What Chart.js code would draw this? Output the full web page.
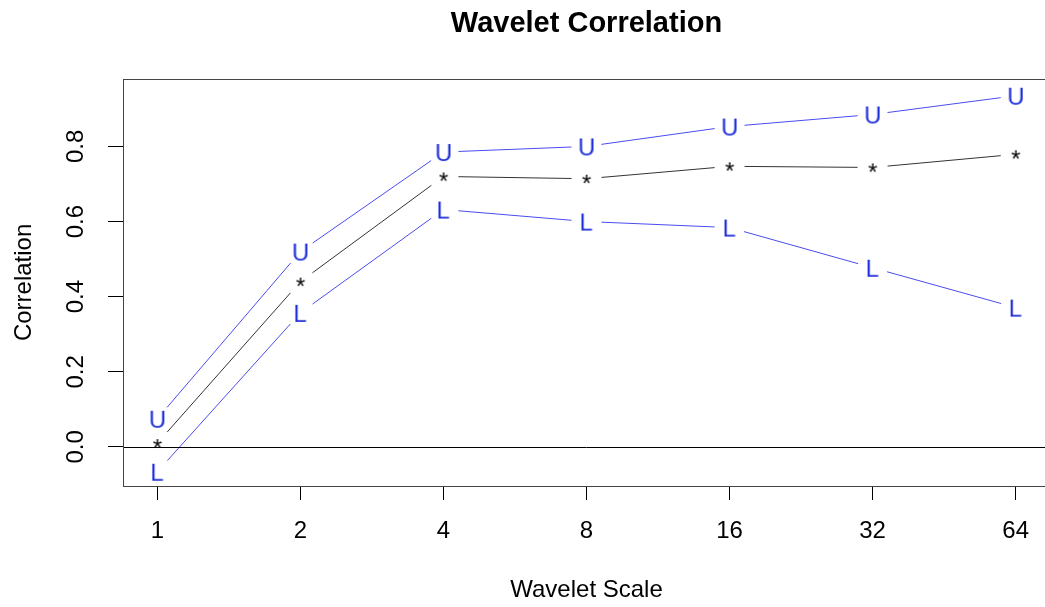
<!DOCTYPE html>
<html>
<head>
<meta charset="utf-8">
<script src="https://cdn.jsdelivr.net/npm/chart.js@4/dist/chart.umd.min.js"></script>
<style>
  html, body { margin: 0; padding: 0; background: #fff; overflow: hidden; }
  #chart { display: block; width: 1070px; height: 607px; max-width: none; }
</style>
</head>
<body>
<canvas id="chart" width="1070" height="607"></canvas>
<script>
// wavelet scales (x) and the correlation estimate with its bounds
const scales = [1, 2, 4, 8, 16, 32, 64];
const upper = [0.075, 0.52, 0.785, 0.80, 0.853, 0.885, 0.935];
const corr = [0.01, 0.44, 0.72, 0.714, 0.747, 0.744, 0.779];
const lower = [-0.066, 0.357, 0.632, 0.60, 0.584, 0.477, 0.371];
const yTicks = [0, 0.2, 0.4, 0.6, 0.8];

const FONT = '"Liberation Sans", Arial, sans-serif';

// little canvases used as point markers (R draws pch letters)
function glyph(ch, color) {
  const c = document.createElement('canvas');
  c.width = 30; c.height = 30;
  const ctx = c.getContext('2d');
  ctx.font = '24px ' + FONT;
  ctx.fillStyle = color;
  const m = ctx.measureText(ch);
  const w = m.actualBoundingBoxLeft + m.actualBoundingBoxRight;
  const h = m.actualBoundingBoxAscent + m.actualBoundingBoxDescent;
  ctx.fillText(ch, 15 - w / 2 + m.actualBoundingBoxLeft, 15 - h / 2 + m.actualBoundingBoxAscent);
  return c;
}

const pairs = arr => scales.map((s, i) => ({ x: s, y: arr[i] }));

// lines with gaps around the points, like R's type = "b"
const gappedLines = {
  id: 'gappedLines',
  beforeDatasetsDraw(chart) {
    const ctx = chart.ctx;
    const gap = 15;
    chart.data.datasets.forEach((ds, i) => {
      const pts = chart.getDatasetMeta(i).data;
      ctx.save();
      ctx.strokeStyle = ds.borderColor;
      ctx.lineWidth = 1;
      for (let k = 0; k < pts.length - 1; k++) {
        const a = pts[k], b = pts[k + 1];
        const dx = b.x - a.x, dy = b.y - a.y;
        const len = Math.sqrt(dx * dx + dy * dy);
        if (len <= 2 * gap) continue;
        const ux = dx / len, uy = dy / len;
        ctx.beginPath();
        ctx.moveTo(a.x + ux * gap, a.y + uy * gap);
        ctx.lineTo(b.x - ux * gap, b.y - uy * gap);
        ctx.stroke();
      }
      ctx.restore();
    });
  },
  afterDatasetsDraw(chart) {
    const ctx = chart.ctx;
    const a = chart.chartArea;
    const y = chart.scales.y;
    ctx.save();
    // zero line
    ctx.strokeStyle = '#000';
    ctx.lineWidth = 1;
    const y0 = Math.round(y.getPixelForValue(0)) + 0.5;
    ctx.beginPath();
    ctx.moveTo(a.left, y0);
    ctx.lineTo(a.right, y0);
    ctx.stroke();
    // box
    ctx.strokeStyle = '#444';
    ctx.strokeRect(Math.round(a.left) + 0.5, Math.round(a.top) + 0.5,
      Math.round(a.right - a.left), Math.round(a.bottom - a.top));
    // rotated y tick labels
    ctx.fillStyle = '#000';
    ctx.font = '24px ' + FONT;
    ctx.textAlign = 'center';
    ctx.textBaseline = 'middle';
    y.ticks.forEach(t => {
      ctx.save();
      ctx.translate(76, y.getPixelForValue(t.value));
      ctx.rotate(-Math.PI / 2);
      ctx.fillText(t.value.toFixed(1), 0, 0);
      ctx.restore();
    });
    ctx.restore();
  }
};

new Chart(document.getElementById('chart'), {
  type: 'line',
  data: {
    datasets: [
      {
        label: 'Upper',
        data: pairs(upper),
        showLine: false,
        borderColor: '#4b4bf0',
        pointStyle: glyph('U', '#1f2fd8'),
        pointRadius: 10
      },
      {
        label: 'Correlation',
        data: pairs(corr),
        showLine: false,
        borderColor: '#333',
        pointStyle: glyph('*', '#000'),
        pointRadius: 10
      },
      {
        label: 'Lower',
        data: pairs(lower),
        showLine: false,
        borderColor: '#4b4bf0',
        pointStyle: glyph('L', '#1f2fd8'),
        pointRadius: 10
      }
    ]
  },
  options: {
    responsive: false,
    maintainAspectRatio: false,
    animation: false,
    events: [],
    // the plot box runs a few pixels past the right edge of the window
    layout: { padding: { left: 0, right: 20, top: 0, bottom: 0 } },
    plugins: {
      legend: { display: false },
      tooltip: { enabled: false },
      title: {
        display: true,
        text: 'Wavelet Correlation',
        fullSize: false,
        color: '#000',
        font: { family: FONT, size: 29, weight: 'bold' },
        padding: { top: 7, bottom: 37 }
      }
    },
    scales: {
      x: {
        type: 'logarithmic',
        min: Math.pow(2, -0.24),
        max: Math.pow(2, 6.24),
        afterBuildTicks: s => { s.ticks = scales.map(v => ({ value: v })); },
        afterFit: s => { s.height = 121; },
        border: { display: false },
        grid: { drawOnChartArea: false, drawTicks: true, tickLength: 14, color: '#000' },
        ticks: {
          autoSkip: false, maxRotation: 0, minRotation: 0,
          padding: 17, color: '#000',
          font: { family: FONT, size: 24 },
          callback: v => String(v)
        },
        title: {
          display: true, text: 'Wavelet Scale', color: '#000',
          font: { family: FONT, size: 24 },
          padding: { top: 0, bottom: 2 }
        }
      },
      y: {
        min: -0.104,
        max: 0.98,
        afterBuildTicks: s => { s.ticks = yTicks.map(v => ({ value: v })); },
        afterFit: s => { s.width = 123; },
        border: { display: false },
        grid: { drawOnChartArea: false, drawTicks: true, tickLength: 15, color: '#000' },
        ticks: { display: false },
        title: {
          display: true, text: 'Correlation', color: '#000',
          font: { family: FONT, size: 24 },
          padding: { top: 10, bottom: 0 }
        }
      }
    }
  },
  plugins: [gappedLines]
});
</script>
</body>
</html>
